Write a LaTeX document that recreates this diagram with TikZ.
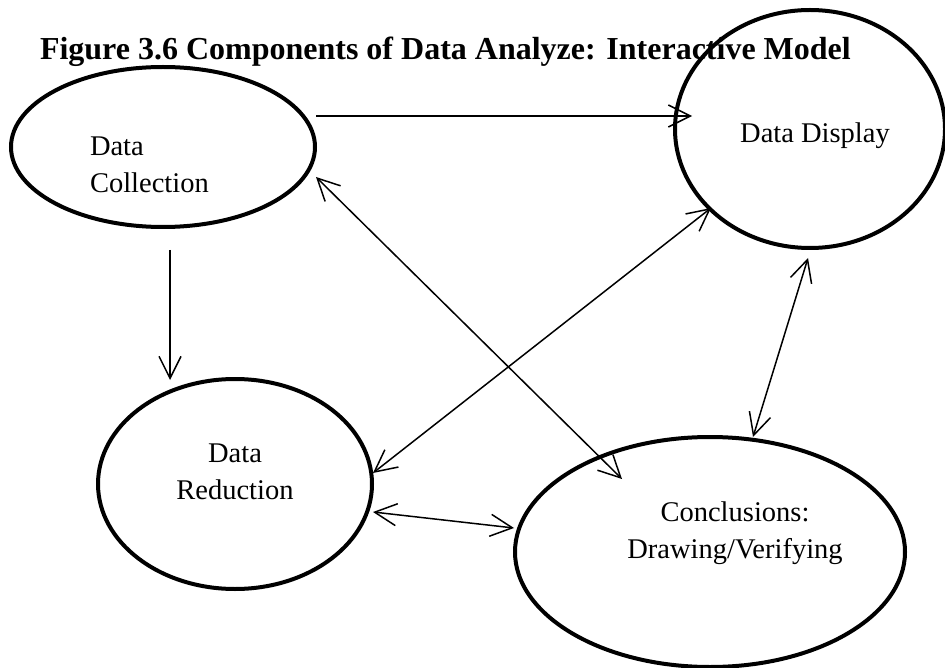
\documentclass[tikz,border=0pt]{standalone}
\usepackage{fontspec}
\setmainfont{Liberation Serif}
\usetikzlibrary{shapes.geometric,arrows.meta,calc}

\begin{document}
\begin{tikzpicture}[
    x=1pt, y=-1pt,
    every node/.style = {
      inner sep=0pt,
      outer sep=0pt
    },
    phase/.style = {
      shape=ellipse,
      draw,
      line width=4pt
    },
    phasetext/.style = {
      font=\fontsize{28.5}{37}\selectfont
    },
    link/.style = {
      line width=1.5pt,
      -{Straight Barb[length=22pt,width=22pt]}
    },
    twoway/.style = {
      line width=1.5pt,
      {Straight Barb[length=22pt,width=22pt]}-{Straight Barb[length=22pt,width=22pt]}
    }
  ]
  \useasboundingbox (0,0) rectangle (945,668);

  \node[anchor=base west, font=\fontsize{32}{38}\selectfont\bfseries] (title) at (40,60)
    {Figure 3.6 Components of Data Analyze: Interactive Model};

  % The four components
  \node[phase, minimum width=304pt, minimum height=160pt] (coll) at (163,147) {};
  \node[phase, minimum width=270pt, minimum height=238pt] (disp) at (810,129) {};
  \node[phase, minimum width=274pt, minimum height=210pt] (red) at (235,484) {};
  \node[phase, minimum width=390pt, minimum height=230pt] (concl) at (710,552) {};

  % base of a two line node sits on its last line
  \node[phasetext, anchor=base west, align=left] (colltext) at (90,193) {Data \\ Collection};
  \node[phasetext, anchor=base] (disptext) at (815,143) {Data Display};
  \node[phasetext, anchor=base, align=center] (redtext) at (235,499) {Data \\ Reduction};
  \node[phasetext, anchor=base, align=center] (concltext) at (735,558) {Conclusions: \\ Drawing/Verifying};

  % One way flows
  \draw[link] ($(coll.east)+(1,-31)$) -- ($(disp.west)+(17,-13)$);
  \draw[link] ($(coll.south)+(7,23)$) -- ($(red.north)+(-65,1)$);

  % Two way flows
  \draw[twoway] ($(coll.east)+(1,30)$) -- ($(concl.north)+(-88,42)$);
  \draw[twoway] ($(red.east)+(1,-11)$) -- ($(disp.south)+(-99,-40)$);
  \draw[twoway] ($(red.east)+(1,28)$) -- ($(concl.west)+(-1,-24)$);
  \draw[twoway] ($(concl.north)+(43,0)$) -- ($(disp.south)+(-2,10)$);
\end{tikzpicture}
\end{document}
